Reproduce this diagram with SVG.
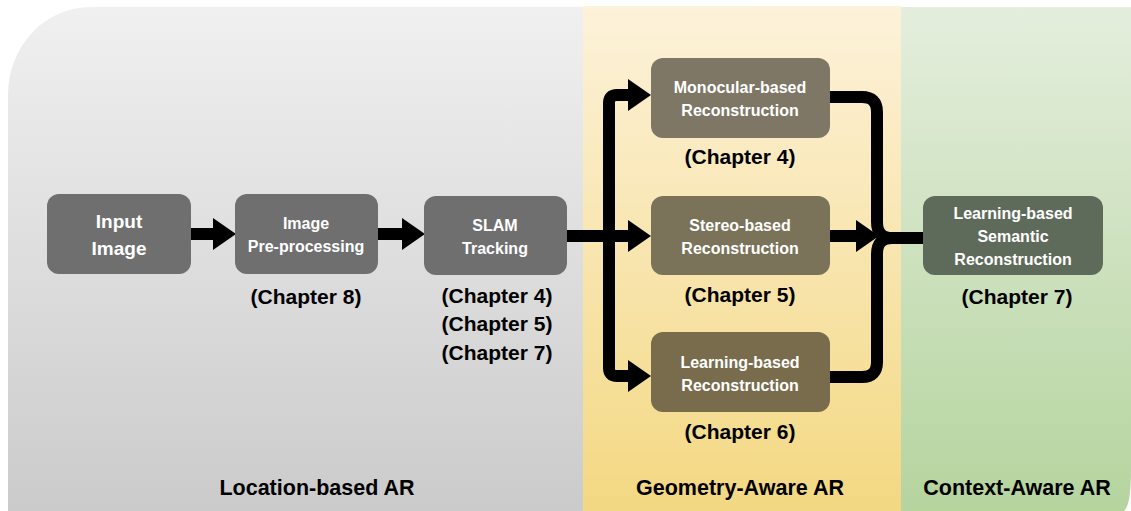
<svg xmlns="http://www.w3.org/2000/svg" width="1131" height="511" viewBox="0 0 1131 511">
  <style>
    .node-label { font-family: "Liberation Sans", Arial, sans-serif; font-weight: bold; fill: #ffffff; text-anchor: middle; }
    .chapter { font-family: "Liberation Sans", Arial, sans-serif; font-weight: bold; fill: #000000; text-anchor: middle; font-size: 21px; }
    .zone { font-family: "Liberation Sans", Arial, sans-serif; font-weight: bold; fill: #000000; text-anchor: middle; font-size: 21.5px; }
    .link { fill: none; stroke: #000000; stroke-width: 12; stroke-linecap: butt; stroke-linejoin: round; }
  </style>
  <defs>
    <linearGradient id="grayBand" x1="0" y1="0" x2="0" y2="1">
      <stop offset="0" stop-color="#f0f0f0"/>
      <stop offset="1" stop-color="#cbcbcb"/>
    </linearGradient>
    <linearGradient id="yellowBand" x1="0" y1="0" x2="0" y2="1">
      <stop offset="0" stop-color="#fdf2da"/>
      <stop offset="1" stop-color="#f3d882"/>
    </linearGradient>
    <linearGradient id="greenBand" x1="0" y1="0" x2="0" y2="1">
      <stop offset="0" stop-color="#e4eedd"/>
      <stop offset="1" stop-color="#b5d49e"/>
    </linearGradient>
    <marker id="head" markerUnits="userSpaceOnUse" markerWidth="23" markerHeight="32" refX="0" refY="16" orient="auto">
      <path d="M0,0 L23,16 L0,32 Z" fill="#000000"/>
    </marker>
  </defs>

  <!-- background bands -->
  <g id="bands">
    <path d="M8,511 V95 A82,88 0 0 1 90,7 H583 V511 Z" fill="url(#grayBand)"/>
    <rect x="583" y="6" width="318" height="505" fill="url(#yellowBand)"/>
    <path d="M901,7 H1131 V470 Q1131,505 1124,511 H901 Z" fill="url(#greenBand)"/>
  </g>

  <!-- connectors -->
  <g id="connectors">
    <path class="link" d="M191,234 H213" marker-end="url(#head)"/>
    <path class="link" d="M378,234 H402" marker-end="url(#head)"/>
    <path class="link" d="M567,236 H628" marker-end="url(#head)"/>
    <path class="link" d="M609,236 V103 Q609,95 617,95 H628" marker-end="url(#head)"/>
    <path class="link" d="M609,236 V368 Q609,376 617,376 H628" marker-end="url(#head)"/>
    <path class="link" d="M830,236 H856" marker-end="url(#head)"/>
    <path class="link" d="M830,97 H862 Q877,97 877,112 V222 Q877,238 892,238 H923"/>
    <path class="link" d="M830,377 H862 Q877,377 877,362 V254 Q877,238 892,238"/>
  </g>

  <g id="input-image">
    <rect x="47" y="194" width="144" height="80" rx="12" fill="#6f6f6f"/>
    <text class="node-label" font-size="19" x="119" y="228">Input</text>
    <text class="node-label" font-size="19" x="119" y="255">Image</text>
  </g>

  <g id="preprocessing">
    <rect x="235" y="194" width="143" height="80" rx="12" fill="#6f6f6f"/>
    <text class="node-label" font-size="16" x="306" y="229">Image</text>
    <text class="node-label" font-size="16" x="306" y="252">Pre-processing</text>
    <text class="chapter" x="306" y="304">(Chapter 8)</text>
  </g>

  <g id="slam-tracking">
    <rect x="424" y="196" width="143" height="79" rx="12" fill="#6f6f6f"/>
    <text class="node-label" font-size="16" x="495" y="231">SLAM</text>
    <text class="node-label" font-size="16" x="495" y="254">Tracking</text>
    <text class="chapter" x="497" y="303">(Chapter 4)</text>
    <text class="chapter" x="497" y="331">(Chapter 5)</text>
    <text class="chapter" x="497" y="360">(Chapter 7)</text>
  </g>

  <g id="monocular">
    <rect x="651" y="58" width="179" height="80" rx="12" fill="#7e7766"/>
    <text class="node-label" font-size="16" x="740" y="93">Monocular-based</text>
    <text class="node-label" font-size="16" x="740" y="116">Reconstruction</text>
    <text class="chapter" x="740" y="164">(Chapter 4)</text>
  </g>

  <g id="stereo">
    <rect x="651" y="196" width="179" height="79" rx="12" fill="#7b7359"/>
    <text class="node-label" font-size="16" x="740" y="231">Stereo-based</text>
    <text class="node-label" font-size="16" x="740" y="254">Reconstruction</text>
    <text class="chapter" x="740" y="302">(Chapter 5)</text>
  </g>

  <g id="learning">
    <rect x="651" y="332" width="179" height="80" rx="12" fill="#786c4c"/>
    <text class="node-label" font-size="16" x="740" y="368">Learning-based</text>
    <text class="node-label" font-size="16" x="740" y="391">Reconstruction</text>
    <text class="chapter" x="740" y="439">(Chapter 6)</text>
  </g>

  <g id="semantic">
    <rect x="923" y="196" width="180" height="79" rx="12" fill="#5f6b5a"/>
    <text class="node-label" font-size="16" x="1013" y="219">Learning-based</text>
    <text class="node-label" font-size="16" x="1013" y="242">Semantic</text>
    <text class="node-label" font-size="16" x="1013" y="265">Reconstruction</text>
    <text class="chapter" x="1017" y="304">(Chapter 7)</text>
  </g>

  <g id="zone-labels">
    <text class="zone" x="317" y="495">Location-based AR</text>
    <text class="zone" x="740" y="495">Geometry-Aware AR</text>
    <text class="zone" x="1017" y="495">Context-Aware AR</text>
  </g>
</svg>
